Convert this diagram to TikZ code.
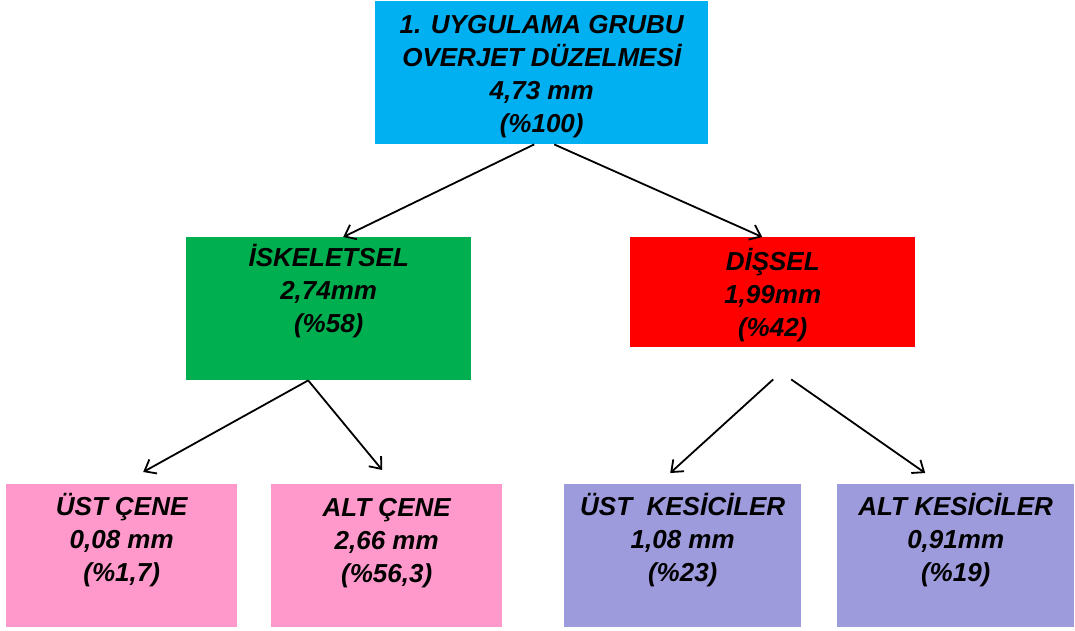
\documentclass[tikz,border=0pt]{standalone}
\usepackage{fontspec}
\setmainfont{Liberation Sans}
\usetikzlibrary{arrows.meta, positioning}
\definecolor{grpCyan}{HTML}{00B0F0}
\definecolor{grpGreen}{HTML}{00B050}
\definecolor{grpRed}{HTML}{FF0000}
\definecolor{grpPink}{HTML}{FF99CC}
\definecolor{grpLav}{HTML}{9E9BDC}
\tikzset{
  box/.style 2 args = {minimum width=#1, minimum height=#2, anchor=north west,
                       inner sep=0pt, draw=none},
  boxtxt/.style     = {font=\fontsize{26}{33}\selectfont\bfseries\itshape,
                       align=center, inner sep=0pt, anchor=north},
  link/.style       = {-{Straight Barb[length=10pt, width=16pt]}, line width=1.8pt, black},
}

\begin{document}
\begin{tikzpicture}[x=1pt, y=-1pt]
\useasboundingbox (0,0) rectangle (1075,630);
% top: the whole group
\node[box={333pt}{143pt}, fill=grpCyan] (grup) at (375,1) {};
\node[boxtxt, below=14pt of grup.north] (gruptxt) {1. UYGULAMA GRUBU\\OVERJET DÜZELMESİ\\4,73 mm\\(\%100)};
% middle row: skeletal and dental parts
\node[box={285pt}{143pt}, fill=grpGreen] (isk) at (186,237) {};
\node[boxtxt, below=7pt of isk.north] (isktxt) {İSKELETSEL\\2,74mm\\(\%58)};
\node[box={285pt}{110pt}, fill=grpRed] (dis) at (630,237) {};
\node[boxtxt, below=11pt of dis.north] (distxt) {DİŞSEL\\1,99mm\\(\%42)};
% bottom row: jaws and incisors
\node[box={231pt}{143pt}, fill=grpPink] (ustc) at (6,484) {};
\node[boxtxt, below=9pt of ustc.north] (ustctxt) {ÜST ÇENE\\0,08 mm\\(\%1,7)};
\node[box={231pt}{143pt}, fill=grpPink] (altc) at (271,484) {};
\node[boxtxt, below=14pt of altc.north] (altctxt) {ALT ÇENE\\2,66 mm\\(\%56,3)};
\node[box={237pt}{143pt}, fill=grpLav] (ustk) at (564,484) {};
\node[boxtxt, below=9pt of ustk.north] (ustktxt) {ÜST~~KESİCİLER\\1,08 mm\\(\%23)};
\node[box={237pt}{143pt}, fill=grpLav] (altk) at (837,484) {};
\node[boxtxt, below=9pt of altk.north] (altktxt) {ALT KESİCİLER\\0,91mm\\(\%19)};
% connectors
\draw[link] ([xshift=-7.5pt]grup.south) -- ([xshift=14.5pt]isk.north);
\draw[link] ([xshift=12.5pt]grup.south) -- ([xshift=-10.5pt]dis.north);
\draw[link] ([xshift=-20.5pt]isk.south) -- ([xshift=21.5pt, yshift=12pt]ustc.north);
\draw[link] ([xshift=-20.5pt]isk.south) -- ([xshift=-4.5pt, yshift=14pt]altc.north);
\draw[link] ([xshift=0.5pt, yshift=-32pt]dis.south) -- ([xshift=-12.5pt, yshift=11pt]ustk.north);
\draw[link] ([xshift=18.5pt, yshift=-32pt]dis.south) -- ([xshift=-30.5pt, yshift=11pt]altk.north);
\end{tikzpicture}
\end{document}
